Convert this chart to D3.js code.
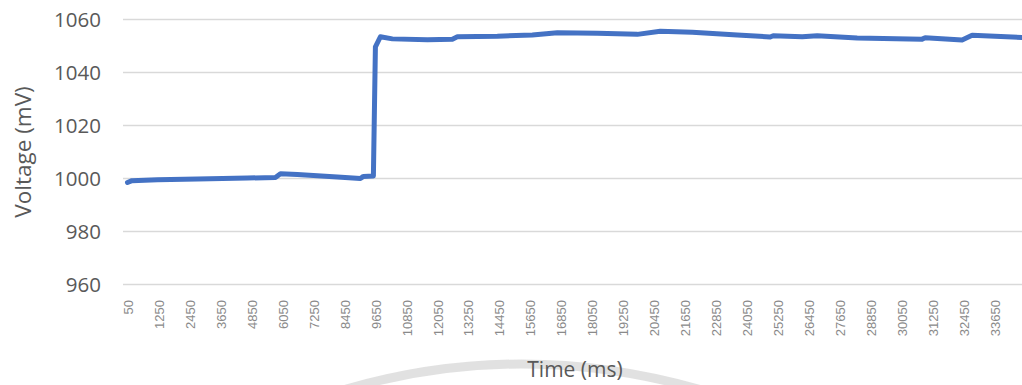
<!DOCTYPE html>
<html>
<head>
<meta charset="utf-8">
<script src="https://cdn.jsdelivr.net/npm/d3@7"></script>
<style>
html,body{margin:0;padding:0;background:#fff;}
svg{display:block;}
</style>
</head>
<body>
<svg id="chart" width="1022" height="385"></svg>
<script>
// ---- data ----
const timeMs = [50, 224, 1211, 2760, 4696, 5780, 5974, 6632, 8180, 9071, 9187, 9574, 9652, 9845, 10310, 11665, 12633, 12826, 14375, 15730, 16698, 18247, 19795, 20686, 21925, 23667, 24944, 25060, 26183, 26764, 28312, 30828, 30944, 32376, 32764, 34700];
const voltageMv = [998.3, 999.0, 999.3, 999.6, 1000.0, 1000.2, 1001.6, 1001.3, 1000.4, 999.8, 1000.6, 1000.8, 1049.5, 1053.3, 1052.5, 1052.2, 1052.4, 1053.3, 1053.5, 1054.0, 1054.8, 1054.6, 1054.2, 1055.4, 1055.0, 1054.0, 1053.2, 1053.7, 1053.3, 1053.7, 1052.8, 1052.4, 1052.9, 1052.1, 1053.9, 1053.0];
const xTickLabels = [50, 1250, 2450, 3650, 4850, 6050, 7250, 8450, 9650, 10850, 12050, 13250, 14450, 15650, 16850, 18050, 19250, 20450, 21650, 22850, 24050, 25250, 26450, 27650, 28850, 30050, 31250, 32450, 33650];
const yTicks = [960, 980, 1000, 1020, 1040, 1060];
const xTitle = "Time (ms)";
const yTitle = "Voltage (mV)";

const svg = d3.select("#chart");
const plotLeft = 123, plotRight = 1022;

const x = d3.scaleLinear().domain([50, 33650]).range([127.5, 995]);
const y = d3.scaleLinear().domain([960, 1060]).range([284, 19]);

// faint watermark arc
svg.append("path")
  .attr("d", "M 330 394 Q 520 334 715 394")
  .attr("fill", "none")
  .attr("stroke", "#dcdcdc")
  .attr("stroke-width", 9)
  .attr("opacity", 0.85);

// gridlines + y labels
const yAxis = d3.axisLeft(y).tickValues(yTicks).tickSize(0).tickPadding(0).tickFormat(d3.format("d"));
const gy = svg.append("g").attr("transform", `translate(${plotLeft},0)`).call(yAxis);
gy.select(".domain").remove();
gy.selectAll(".tick line")
  .attr("x2", plotRight - plotLeft)
  .attr("stroke", "#d9d9d9")
  .attr("stroke-width", 1.3);
gy.selectAll(".tick text")
  .attr("x", 101 - plotLeft)
  .attr("dy", "0.36em")
  .attr("fill", "#595959")
  .style("font-family", "'Open Sans', sans-serif")
  .style("font-size", "20.5px")
  .attr("text-anchor", "end");

// x axis labels
const xAxis = d3.axisBottom(x).tickValues(xTickLabels).tickSize(0).tickFormat(d => String(d));
const gx = svg.append("g").attr("transform", `translate(0,${y(960)})`).call(xAxis);
gx.select(".domain").remove();
gx.selectAll(".tick text")
  .attr("transform", "translate(0,16) rotate(-90)")
  .attr("x", 0).attr("y", 0)
  .attr("dy", "0.36em")
  .attr("text-anchor", "end")
  .attr("fill", "#8a8a8a")
  .style("font-family", "'Liberation Sans', Arial, sans-serif")
  .style("font-size", "13px");

// line
const line = d3.line().x(d => x(d[0])).y(d => y(d[1])).curve(d3.curveLinear);
svg.append("path")
  .datum(timeMs.map((t, i) => [t, voltageMv[i]]))
  .attr("d", line)
  .attr("fill", "none")
  .attr("stroke", "#4472c4")
  .attr("stroke-width", 5)
  .attr("stroke-linejoin", "round")
  .attr("stroke-linecap", "round");

// titles
svg.append("text")
  .attr("transform", "translate(31,152) rotate(-90)")
  .attr("text-anchor", "middle")
  .attr("fill", "#595959")
  .style("font-family", "'Open Sans', sans-serif")
  .style("font-size", "22.5px")
  .text(yTitle);

svg.append("text")
  .attr("x", 575).attr("y", 377)
  .attr("text-anchor", "middle")
  .attr("fill", "#595959")
  .style("font-family", "'Open Sans', sans-serif")
  .style("font-size", "21px")
  .text(xTitle);
</script>
</body>
</html>
